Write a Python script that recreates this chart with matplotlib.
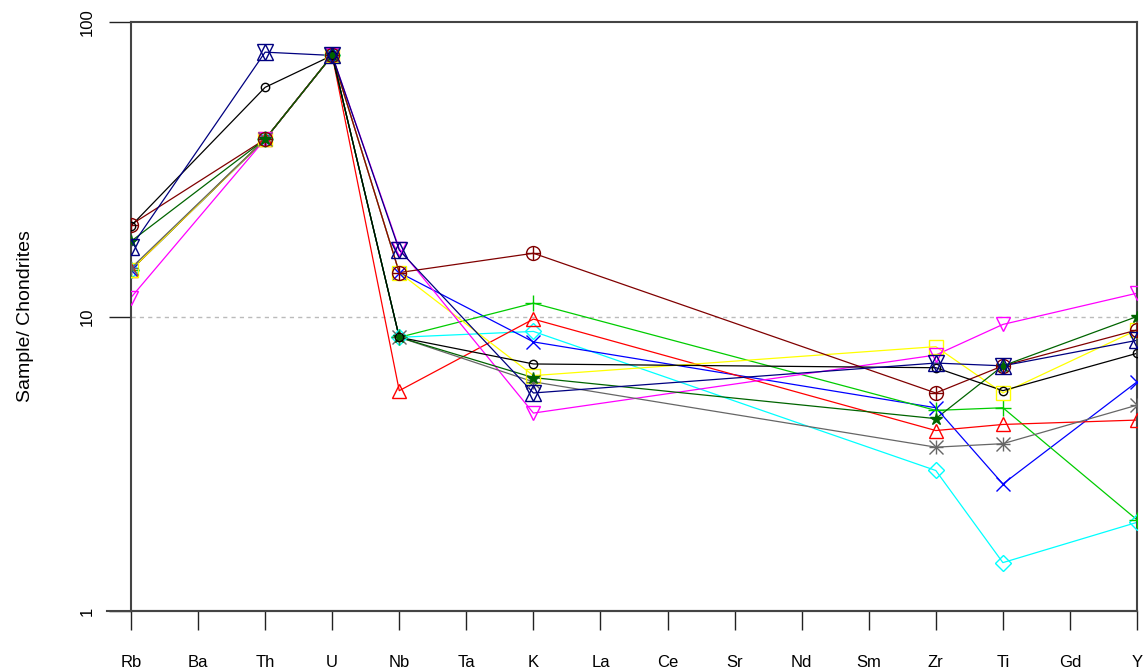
import matplotlib
matplotlib.use("Agg")
import matplotlib.pyplot as plt
import numpy as np

plt.rcParams['font.family'] = ['Liberation Sans', 'DejaVu Sans']

elements = ["Rb", "Ba", "Th", "U", "Nb", "Ta", "K", "La", "Ce", "Sr", "Nd", "Sm", "Zr", "Ti", "Gd", "Y"]
# only these elements carry values; the rest are blank columns
measured = ["Rb", "Th", "U", "Nb", "K", "Zr", "Ti", "Y"]

navy_vals    = [17.2, 79, 77, 16.8, 5.5, 6.95, 6.8, 8.3]
black_vals   = [20.3, 60, 77, 8.5, 6.9, 6.7, 5.6, 7.5]
dgreen_vals  = [18.0, 40, 77, 8.5, 6.2, 4.5, 6.8, 10.0]
brown_vals   = [20.5, 40, 77, 14.1, 16.4, 5.5, 6.8, 9.0]
grey_vals    = [14.6, 40, 77, 8.5, 6.0, 3.6, 3.7, 5.0]
magenta_vals = [11.6, 40, 77, 17.0, 4.7, 7.4, 9.4, 12.0]
yellow_vals  = [14.4, 40, 77, 14.1, 6.3, 7.9, 5.5, 9.0]
red_vals     = [14.4, 40, 77, 5.6, 9.8, 4.1, 4.3, 4.45]
green_vals   = [14.4, 40, 77, 8.5, 11.1, 4.8, 4.9, 2.04]
blue_vals    = [14.4, 40, 77, 14.1, 8.2, 4.9, 2.7, 6.0]
cyan_vals    = [14.4, 40, 77, 8.5, 8.9, 3.0, 1.46, 2.0]

xpos = [elements.index(e) for e in measured]

fig = plt.figure(figsize=(11.47, 6.71), dpi=100)
ax = fig.add_axes([0.1142, 0.0894, 0.8771, 0.8778])

ax.axhline(10, color="#bbbbbb", lw=1, ls=(0, (3, 3)), zorder=0)

def draw(vals, color, markers, ms=9):
    ax.plot(xpos, vals, color=color, lw=0.9, zorder=2)
    for m in markers:
        filled = m in ("+", "x", "*")
        ax.plot(xpos, vals, ls="none", marker=m, ms=ms, mew=1.0,
                mec=color, mfc=color if filled else "none", zorder=3)

draw(cyan_vals, "#00ffff", ["D"], ms=8)
draw(blue_vals, "#0000ff", ["x"], ms=10)
draw(green_vals, "#00cc00", ["+"], ms=12)
draw(red_vals, "#ff0000", ["^"], ms=10)
draw(yellow_vals, "#ffff00", ["s"], ms=10)
draw(magenta_vals, "#ff00ff", ["v"], ms=10)
draw(grey_vals, "#666666", ["+", "x"], ms=10)
draw(brown_vals, "#800000", ["o", "+"], ms=10)
draw(dgreen_vals, "#006400", ["*"], ms=9)
draw(black_vals, "#000000", ["o"], ms=6)
draw(navy_vals, "#000080", ["^", "v"], ms=11)

ax.set_yscale("log")
ax.set_ylim(1, 100)
ax.set_xlim(0, 15)

ax.set_xticks(range(len(elements)))
ax.set_xticklabels(elements, fontsize=12)
ax.set_yticks([1, 10, 100])
ax.set_yticklabels(["1", "10", "100"], rotation=90, va="center", fontsize=12)
ax.yaxis.set_minor_locator(matplotlib.ticker.NullLocator())
ax.tick_params(axis="x", length=14, width=1, pad=18, color="#222222")
ax.tick_params(axis="y", length=16, width=1, pad=10, color="#222222")

for s in ax.spines.values():
    s.set_color("#444444")
    s.set_linewidth(1.5)

# x-axis line runs a little past the left spine
ax.plot([-0.024, 1.0], [0, 0], transform=ax.transAxes, color="#444444",
        lw=1.5, clip_on=False)

ax.set_ylabel("Sample/ Chondrites", fontsize=14, labelpad=33)

fig.savefig("out.png", dpi=100)
